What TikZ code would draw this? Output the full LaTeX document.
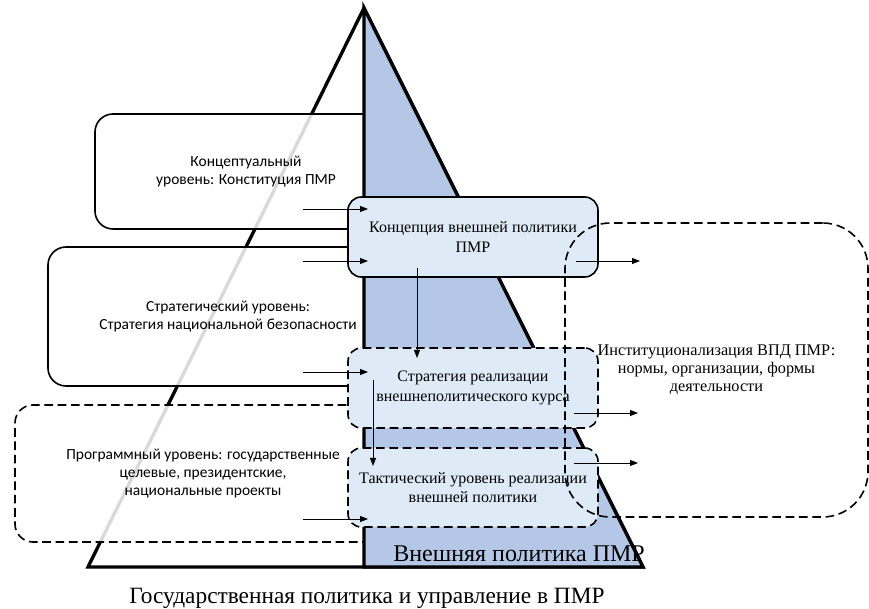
\documentclass[tikz,border=0pt]{standalone}
\usepackage{fontspec}
\setmainfont{Liberation Serif}
\newfontfamily\calibri{Carlito}
\usepackage{tikz}
\usetikzlibrary{arrows.meta}
\definecolor{pyrblue}{HTML}{B4C7E7}
\definecolor{boxblue}{HTML}{DEEBF7}
\tikzset{
    lvlbox/.style={draw, rounded corners=13.5pt, line width=1.2pt, fill=white,
    	fill opacity=.85, text opacity=1, align=center,
    	font=\calibri\fontsize{11.6}{13.6}\selectfont}
}
\tikzset{
    docbox/.style={draw, rounded corners=10pt, line width=1.2pt, fill=boxblue,
    	minimum width=187.5pt, minimum height=60pt, align=center,
    	font=\fontsize{12}{14.6}\selectfont}
}
\tikzset{
    dashbox/.style={dash pattern=on 6.5pt off 3.5pt}
}
\tikzset{
    every edge/.append style={line width=.7pt, -{Triangle[length=6pt,width=4.5pt]}}
}

\begin{document}
\begin{tikzpicture}[x=.75pt, y=-.75pt]
  \useasboundingbox (0,0) rectangle (869,609);

  \coordinate (top) at (364, 8);
  \coordinate (bl) at (88, 567);
  \coordinate (bm) at (364, 567);
  \coordinate (br) at (643, 567);
  \draw [line width=2.5pt] (top) -- (bl) -- (br) -- cycle;

  \node (konst) [lvlbox, minimum width=226.5pt, minimum height=86.25pt]
    at (246, 171.5) {Концептуальный\\уровень: Конституция ПМР};
  \node (strat) [lvlbox, minimum width=270pt, minimum height=104.25pt]
    at (228, 316.5) {Стратегический уровень:\\Стратегия национальной безопасности};
  \node (prog) [lvlbox, dashbox, minimum width=282pt, minimum height=102.75pt]
    at (203, 473.5) {Программный уровень: государственные\\целевые, президентские,\\национальные проекты};

  \filldraw [fill=pyrblue, line width=2.5pt] (top) -- (bm) -- (br) -- cycle;

  \node (konc) [docbox] at (473, 237) {Концепция внешней политики\\ПМР};
  \node (realiz) [docbox, dashbox] at (473, 388) {Стратегия реализации\\внешнеполитического курса};
  \node (takt) [docbox, dashbox, minimum height=59.25pt] at (473, 487.5) {Тактический уровень реализации\\внешней политики};

  \node (inst) [draw, dashbox, rounded corners=34pt, line width=1.2pt,
    minimum width=227.25pt, minimum height=220.5pt, align=center,
    font=\fontsize{12.2}{13.5}\selectfont]
    at (716.5, 370) {Институционализация ВПД ПМР:\\нормы, организации, формы\\деятельности};

  \node (vp) [anchor=base west, inner sep=0pt, font=\fontsize{18}{21}\selectfont]
    at (393, 562) {Внешняя политика ПМР};
  \node (gp) [anchor=base, inner sep=0pt, font=\fontsize{17.5}{20}\selectfont]
    at (367, 604) {Государственная политика и управление в ПМР};

  \coordinate (k1) at (303, 209);  \coordinate (k1e) at (368, 209);
  \coordinate (s1) at (303, 261);  \coordinate (s1e) at (368, 261);
  \coordinate (s2) at (303, 372);  \coordinate (s2e) at (368, 372);
  \coordinate (p1) at (303, 519);  \coordinate (p1e) at (368, 519);
  \coordinate (d1) at (417, 268);  \coordinate (d1e) at (417, 358);
  \coordinate (d2) at (373, 380);  \coordinate (d2e) at (373, 466);
  \coordinate (o1) at (576, 261);  \coordinate (o1e) at (640, 261);
  \coordinate (o2) at (574, 413);  \coordinate (o2e) at (638, 413);
  \coordinate (o3) at (574, 463);  \coordinate (o3e) at (638, 463);

  \draw (k1) edge (k1e);
  \draw (s1) edge (s1e);
  \draw (s2) edge (s2e);
  \draw (p1) edge (p1e);
  \draw (d1) edge (d1e);
  \draw (d2) edge (d2e);
  \draw (o1) edge (o1e);
  \draw (o2) edge (o2e);
  \draw (o3) edge (o3e);
\end{tikzpicture}
\end{document}
